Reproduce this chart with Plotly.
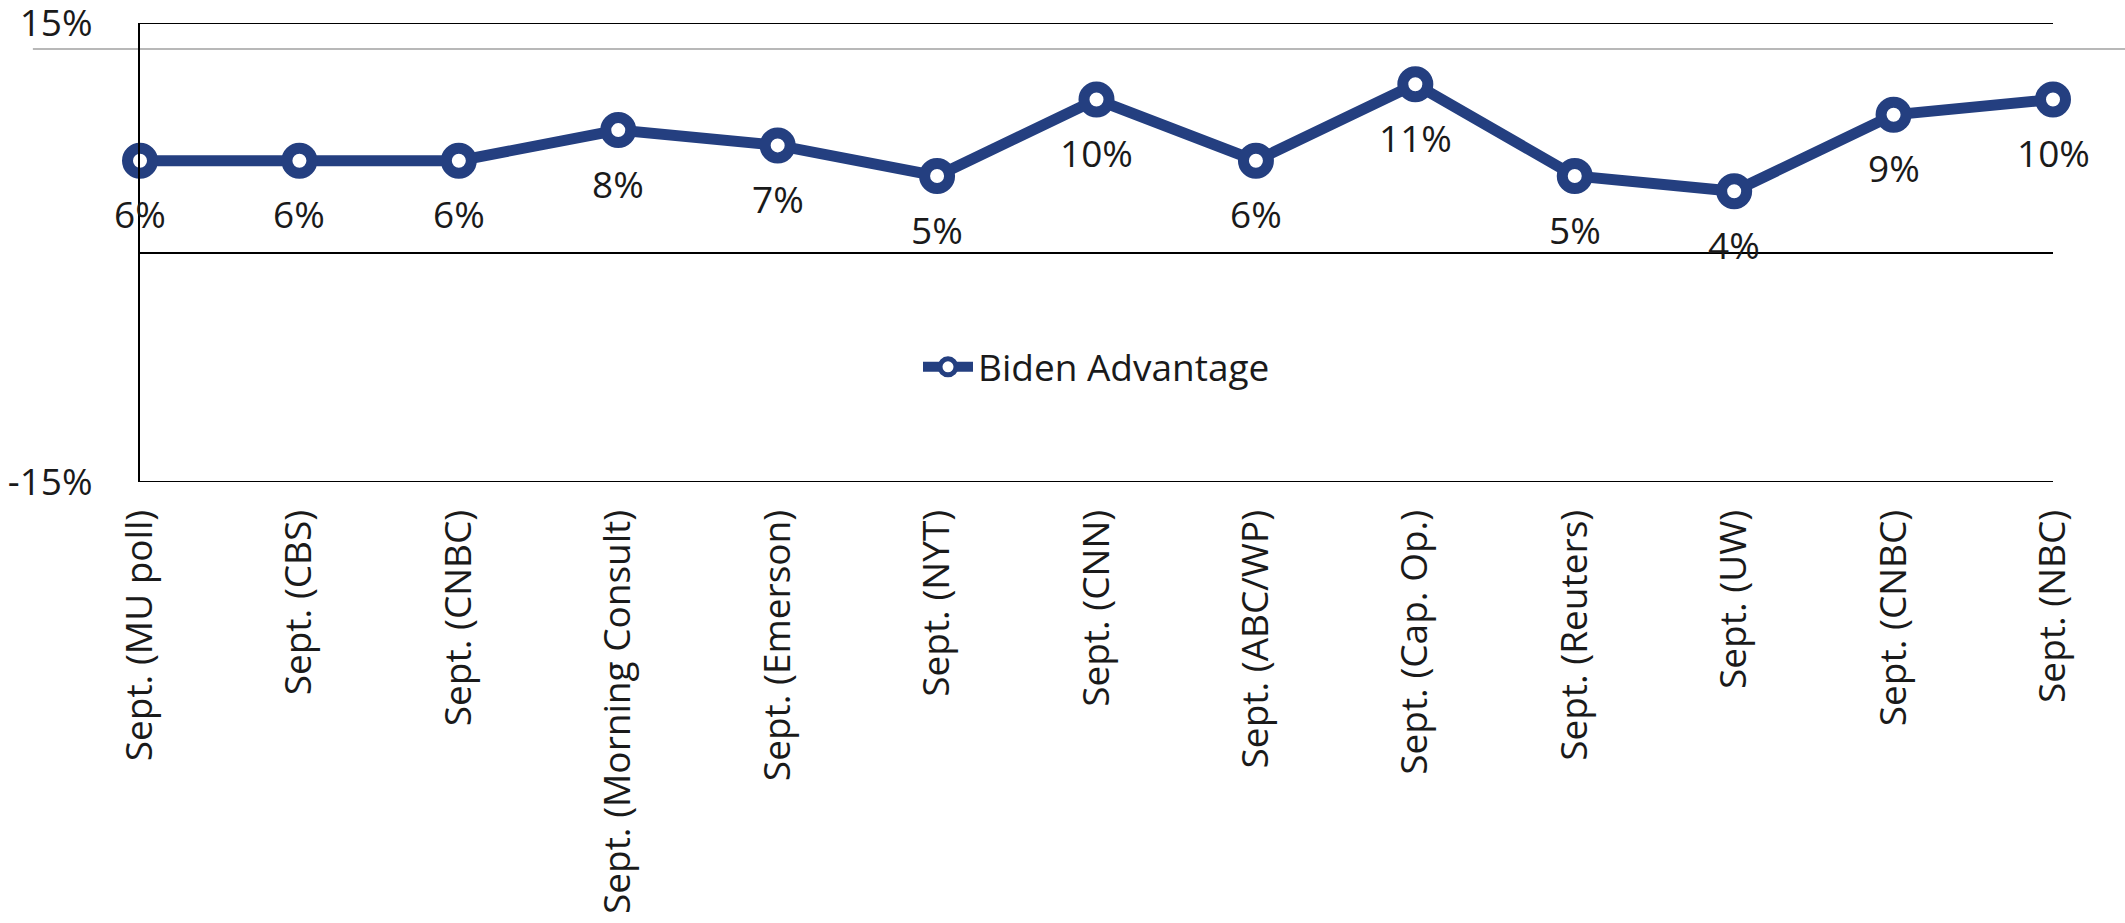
import plotly.graph_objects as go

categories = ["Sept. (MU poll)", "Sept. (CBS)", "Sept. (CNBC)", "Sept. (Morning Consult)",
              "Sept. (Emerson)", "Sept. (NYT)", "Sept. (CNN)", "Sept. (ABC/WP)",
              "Sept. (Cap. Op.)", "Sept. (Reuters)", "Sept. (UW)", "Sept. (CNBC)", "Sept. (NBC)"]
biden_advantage = [6, 6, 6, 8, 7, 5, 10, 6, 11, 5, 4, 9, 10]
y_ticks = [-15, 0, 15]
y_tick_labels = ["-15%", "", "15%"]

NAVY = "#243F80"
FONT = "Open Sans"
FS = 37
x_pos = list(range(len(categories)))

fig = go.Figure()
fig.add_trace(go.Scatter(
    x=x_pos, y=biden_advantage, mode="lines+markers", name="Biden Advantage",
    line=dict(color=NAVY, width=11),
    marker=dict(symbol="circle", size=25, color="white", line=dict(color=NAVY, width=11)),
    cliponaxis=False,
))

for xv, yv in zip(x_pos, biden_advantage):
    fig.add_annotation(x=xv, y=yv, text=f"{yv}%", showarrow=False, yshift=-53,
                       font=dict(family=FONT, size=FS, color="#1a1a1a"))

# horizontal rules at the axis extremes (Plotly omits gridlines at range edges)
for yv in (y_ticks[0], y_ticks[-1]):
    fig.add_shape(type="line", xref="x", yref="y", x0=0, x1=12, y0=yv, y1=yv,
                  line=dict(color="black", width=2), layer="below")

fig.add_shape(type="line", xref="paper", yref="paper", x0=-0.056, x1=1.04, y0=0.9434, y1=0.9434,
              line=dict(color="#A0A0A0", width=1.5), layer="below")

fig.update_layout(
    width=2125, height=923,
    margin=dict(l=140, r=72, t=23, b=441),
    paper_bgcolor="white", plot_bgcolor="white",
    font=dict(family=FONT, size=FS, color="#1a1a1a"),
    showlegend=True,
    legend=dict(x=0.5, y=0.25, xanchor="center", yanchor="middle", bgcolor="rgba(0,0,0,0)",
                font=dict(family=FONT, size=FS, color="#1a1a1a"), itemwidth=50),
    xaxis=dict(range=[0, 12], tickvals=x_pos, ticktext=categories, tickangle=-90,
               showgrid=False, zeroline=False, showline=False, ticks="outside", ticklen=12,
               tickcolor="rgba(0,0,0,0)", tickfont=dict(family=FONT, size=FS), automargin=False),
    yaxis=dict(range=[-15, 15], tickvals=y_ticks, ticktext=y_tick_labels,
               showgrid=True, gridcolor="black", gridwidth=2, zeroline=True, zerolinecolor="black",
               zerolinewidth=2, showline=True, linecolor="black", linewidth=2,
               ticks="outside", ticklen=38, tickcolor="rgba(0,0,0,0)",
               tickfont=dict(family=FONT, size=FS), automargin=False,
               ticklabeloverflow="allow"),
)

fig.write_html("out.html", config={"displayModeBar": False},
               post_script="document.body.style.margin='0';")
